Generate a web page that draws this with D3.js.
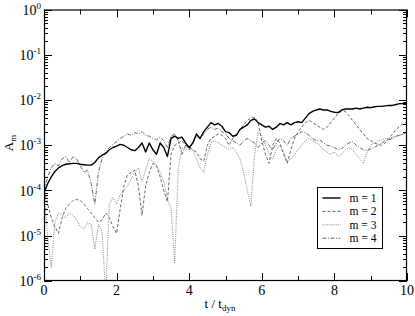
<!DOCTYPE html>
<html>
<head>
<meta charset="utf-8">
<script src="https://cdn.jsdelivr.net/npm/d3@7"></script>
<style>
  body { margin: 0; background: #fff; }
  text { font-family: "Liberation Serif", "Times New Roman", serif; fill: #000; }
</style>
</head>
<body>
<div id="chart"></div>
<script>
// time grid t / t_dyn, step 0.1
var times = d3.range(0, 101).map(function(i){ return i / 10; });

// log10(A_m), one value per time step
var m1 = [-4.05,-3.85,-3.7,-3.58,-3.5,-3.45,-3.42,-3.41,-3.4,-3.4,
          -3.42,-3.43,-3.44,-3.44,-3.38,-3.28,-3.22,-3.18,-3.1,-3.05,
          -3.02,-2.98,-3.0,-3.05,-3.1,-3.12,-3.05,-2.95,-3.15,-2.95,
          -3.1,-3.2,-2.95,-3.05,-3.25,-2.85,-2.8,-2.85,-2.82,-2.95,
          -3.05,-2.95,-2.75,-2.85,-2.7,-2.6,-2.5,-2.55,-2.52,-2.58,
          -2.7,-2.72,-2.8,-2.78,-2.65,-2.6,-2.55,-2.45,-2.42,-2.5,
          -2.55,-2.6,-2.58,-2.65,-2.6,-2.52,-2.55,-2.5,-2.55,-2.5,
          -2.48,-2.5,-2.4,-2.3,-2.25,-2.22,-2.2,-2.22,-2.22,-2.25,
          -2.27,-2.28,-2.22,-2.2,-2.2,-2.2,-2.18,-2.2,-2.18,-2.16,
          -2.17,-2.15,-2.14,-2.14,-2.13,-2.12,-2.12,-2.1,-2.08,-2.08,
          -2.07];
var m2 = [-4.0,-4.3,-4.6,-4.8,-4.95,-4.6,-4.4,-4.3,-4.22,-4.2,
          -4.22,-4.3,-4.4,-4.5,-4.6,-4.7,-4.65,-4.5,-4.6,-4.8,
          -4.95,-4.4,-3.9,-3.65,-3.6,-3.55,-3.9,-4.55,-3.9,-3.6,
          -3.4,-3.45,-3.7,-4.0,-4.25,-3.2,-3.0,-2.95,-2.9,-3.0,
          -3.05,-3.1,-3.15,-3.3,-3.35,-3.0,-2.85,-2.8,-2.75,-2.78,
          -2.85,-3.0,-2.85,-2.75,-2.65,-2.55,-2.45,-2.4,-2.38,-2.5,
          -2.9,-3.2,-3.4,-3.0,-2.85,-2.95,-3.2,-3.4,-3.1,-2.85,
          -2.7,-2.6,-2.5,-2.45,-2.5,-2.55,-2.6,-2.65,-2.6,-2.5,
          -2.4,-2.3,-2.25,-2.25,-2.35,-2.45,-2.55,-2.65,-2.75,-2.85,
          -2.9,-2.95,-2.98,-3.0,-2.95,-2.85,-2.75,-2.65,-2.58,-2.52,
          -2.48];
var m3 = [-4.0,-5.0,-5.7,-4.7,-4.5,-4.55,-4.6,-4.5,-4.55,-4.65,
          -4.8,-4.85,-4.7,-4.75,-5.3,-4.75,-4.9,-6.3,-4.3,-4.15,
          -4.3,-4.1,-4.0,-3.9,-3.75,-3.6,-3.5,-3.8,-3.55,-3.3,
          -3.35,-3.45,-3.6,-3.8,-4.2,-4.4,-5.6,-3.5,-3.05,-3.1,
          -3.05,-3.1,-3.3,-3.5,-3.6,-3.2,-2.95,-2.9,-2.95,-3.0,
          -3.05,-3.1,-3.05,-3.15,-3.3,-3.6,-4.0,-4.35,-3.2,-2.7,
          -2.8,-3.0,-3.2,-3.3,-3.1,-3.0,-3.15,-3.35,-3.3,-3.2,
          -3.1,-3.0,-2.9,-2.85,-2.9,-2.95,-3.0,-3.1,-3.15,-3.2,
          -3.15,-3.25,-3.2,-3.1,-3.05,-3.1,-3.2,-3.3,-3.4,-3.15,
          -3.0,-2.95,-2.9,-2.88,-2.85,-2.85,-2.82,-2.8,-2.78,-2.75,
          -2.7];
var m4 = [-4.0,-3.7,-3.5,-3.4,-3.45,-3.3,-3.25,-3.38,-3.25,-3.3,
          -3.45,-3.6,-3.55,-3.85,-4.3,-3.6,-3.3,-3.15,-3.05,-2.98,
          -2.92,-2.85,-2.8,-2.75,-2.78,-2.72,-2.75,-2.7,-2.78,-2.8,
          -2.85,-2.88,-2.82,-2.9,-3.05,-2.8,-2.75,-2.9,-3.2,-3.0,
          -3.1,-2.95,-2.8,-2.85,-2.75,-2.65,-2.6,-2.65,-2.62,-2.7,
          -2.75,-2.85,-2.9,-2.95,-3.0,-2.9,-2.85,-2.9,-2.95,-3.05,
          -2.95,-2.9,-3.0,-3.1,-2.95,-2.85,-2.9,-3.0,-2.85,-2.8,
          -2.75,-2.7,-2.72,-2.78,-2.85,-2.9,-2.88,-2.95,-3.0,-3.02,
          -3.05,-3.1,-3.08,-3.0,-2.95,-2.92,-3.0,-3.05,-3.1,-3.12,
          -3.08,-3.05,-3.0,-2.95,-2.9,-2.88,-2.85,-2.8,-2.78,-2.75,
          -2.72];

var seriesNames = ["m = 1", "m = 2", "m = 3", "m = 4"];
var seriesValues = [m1, m2, m3, m4];
var xTicksMajor = [0, 2, 4, 6, 8, 10];
var yDecades = [0, -1, -2, -3, -4, -5, -6];

var styles = [
  {stroke: "#000", width: 1.4, dash: null},
  {stroke: "#555", width: 0.9, dash: "3,2"},
  {stroke: "#777", width: 0.9, dash: "1,1.2"},
  {stroke: "#555", width: 0.9, dash: "4,1.5,1,1.5"}
];

var W = 415, H = 316;
var margin = {top: 9.5, right: 8, bottom: 35, left: 44};
var x0 = margin.left, x1 = W - margin.right;
var y0 = margin.top, y1 = H - margin.bottom;

var svg = d3.select("#chart").append("svg")
    .attr("width", W)
    .attr("height", H);

var xScale = d3.scaleLinear().domain([0, 10]).range([x0, x1]);
var yScale = d3.scaleLog().domain([1e-6, 1]).range([y1, y0]);

svg.append("clipPath").attr("id", "clip")
  .append("rect")
    .attr("x", x0).attr("y", y0)
    .attr("width", x1 - x0).attr("height", y1 - y0);

// ticks (inward, on all four sides)
var minorX = d3.range(1, 10, 2);
var minorY = [];
yDecades.slice(1).forEach(function(e){
    for (var k = 2; k <= 9; k++) minorY.push(k * Math.pow(10, e));
});

var ticks = svg.append("g").attr("stroke", "#000").attr("stroke-width", 1);
xTicksMajor.concat(minorX).forEach(function(t){
    var len = xTicksMajor.indexOf(t) >= 0 ? 8 : 5;
    var px = Math.round(xScale(t)) + 0.5;
    ticks.append("line").attr("x1", px).attr("x2", px).attr("y1", y1).attr("y2", y1 - len);
    ticks.append("line").attr("x1", px).attr("x2", px).attr("y1", y0).attr("y2", y0 + len);
});
yDecades.map(function(e){ return Math.pow(10, e); }).forEach(function(v){
    var py = Math.round(yScale(v)) + 0.5;
    ticks.append("line").attr("x1", x0).attr("x2", x0 + 8).attr("y1", py).attr("y2", py);
    ticks.append("line").attr("x1", x1).attr("x2", x1 - 8).attr("y1", py).attr("y2", py);
});
minorY.forEach(function(v){
    var py = Math.round(yScale(v)) + 0.5;
    ticks.append("line").attr("x1", x0).attr("x2", x0 + 4).attr("y1", py).attr("y2", py);
    ticks.append("line").attr("x1", x1).attr("x2", x1 - 4).attr("y1", py).attr("y2", py);
});

// tick labels
svg.selectAll(".xlab").data(xTicksMajor).enter().append("text")
    .attr("x", function(d){ return xScale(d); })
    .attr("y", y1 + 14)
    .attr("text-anchor", "middle")
    .style("font-size", "14px")
    .text(function(d){ return d; });

var yl = svg.selectAll(".ylab").data(yDecades).enter().append("text")
    .attr("x", x0 - 3)
    .attr("y", function(d){ return yScale(Math.pow(10, d)) + 5; })
    .attr("text-anchor", "end")
    .style("font-size", "14px");
yl.append("tspan").text("10");
yl.append("tspan").attr("dy", -6).style("font-size", "9px").text(function(d){ return d; });

// axis titles
var xt = svg.append("text")
    .attr("x", 220).attr("y", y1 + 27)
    .attr("text-anchor", "middle")
    .style("font-size", "13px");
xt.append("tspan").text("t / t");
xt.append("tspan").attr("dy", 3).style("font-size", "9px").text("dyn");

var ytl = svg.append("text")
    .attr("transform", "translate(13,143) rotate(-90)")
    .attr("text-anchor", "middle")
    .style("font-size", "13px");
ytl.append("tspan").text("A");
ytl.append("tspan").attr("dy", 3).style("font-size", "9px").text("m");

// curves
var line = d3.line()
    .x(function(d){ return xScale(d[0]); })
    .y(function(d){ return yScale(Math.pow(10, d[1])); });

var plot = svg.append("g").attr("clip-path", "url(#clip)");
seriesValues.slice().reverse().forEach(function(vals, j){
    var i = seriesValues.length - 1 - j;
    var pts = times.map(function(t, k){ return [t, vals[k]]; });
    plot.append("path")
        .attr("d", line(pts))
        .attr("fill", "none")
        .attr("stroke", styles[i].stroke)
        .attr("stroke-width", styles[i].width)
        .attr("stroke-dasharray", styles[i].dash)
        .attr("stroke-linejoin", "round");
});

// frame
svg.append("rect")
    .attr("x", x0 + 0.5).attr("y", y0 + 0.5)
    .attr("width", x1 - x0 - 1).attr("height", y1 - y0 - 1)
    .attr("fill", "none").attr("stroke", "#000").attr("stroke-width", 1.2);

// legend
var lg = svg.append("g").attr("transform", "translate(317.5,187.5)");
lg.append("rect").attr("width", 65).attr("height", 61)
    .attr("fill", "#fff").attr("stroke", "#000").attr("stroke-width", 1);
seriesNames.forEach(function(name, i){
    var yy = 10.5 + i * 13.4;
    lg.append("line").attr("x1", 5).attr("x2", 23).attr("y1", yy).attr("y2", yy)
        .attr("stroke", styles[i].stroke).attr("stroke-width", styles[i].width)
        .attr("stroke-dasharray", styles[i].dash);
    lg.append("text").attr("x", 32).attr("y", yy + 4)
        .style("font-size", "11.5px").text(name);
});
</script>
</body>
</html>
